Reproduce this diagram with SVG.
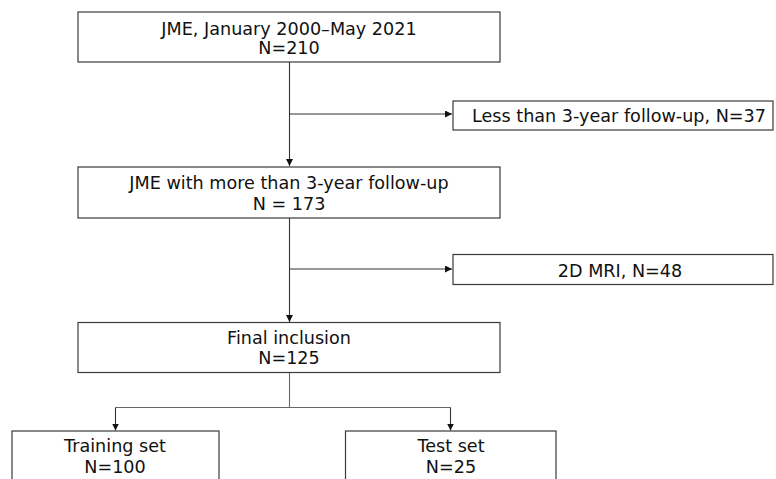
<svg xmlns="http://www.w3.org/2000/svg" width="776" height="479" viewBox="0 0 776 479">
<style>
.box{fill:#fff;stroke:#3a3a3a;stroke-width:1.2}
.t{font-family:"DejaVu Sans",Verdana,sans-serif;font-size:17.6px;fill:#111;text-anchor:middle}
.ln{fill:none;stroke:#333;stroke-width:1.1}
.ln2{fill:none;stroke:#666;stroke-width:1.1}
</style>
<defs>
<marker id="ah" viewBox="0 0 10 10" refX="10" refY="5" markerWidth="7" markerHeight="7" markerUnits="userSpaceOnUse" orient="auto">
<path d="M0,0 L10,5 L0,10 z" fill="#111"/>
</marker>
</defs>
<rect width="776" height="479" fill="#fff"/>
<g id="connectors">
<path class="ln" d="M289.5,62 V166" marker-end="url(#ah)"/>
<path class="ln" d="M289.5,114 H452" marker-end="url(#ah)"/>
<path class="ln" d="M289.5,218 V322" marker-end="url(#ah)"/>
<path class="ln" d="M289.5,269 H452" marker-end="url(#ah)"/>
<path class="ln2" d="M289.5,373 V407.5"/>
<path class="ln2" d="M115.5,407.5 H450.5"/>
<path class="ln" d="M115.5,407.5 V430.5" marker-end="url(#ah)"/>
<path class="ln" d="M450.5,407.5 V430.5" marker-end="url(#ah)"/>
</g>
<g id="n1">
<rect class="box" x="78" y="12" width="422" height="50"/>
<text class="t" x="289" y="35">JME, January 2000–May 2021</text>
<text class="t" x="289" y="54">N=210</text>
</g>
<g id="n2">
<rect class="box" x="453" y="101" width="320" height="29"/>
<text class="t" x="619" y="122">Less than 3-year follow-up, N=37</text>
</g>
<g id="n3">
<rect class="box" x="78" y="167" width="422" height="51"/>
<text class="t" x="289" y="189">JME with more than 3-year follow-up</text>
<text class="t" x="289" y="210">N = 173</text>
</g>
<g id="n4">
<rect class="box" x="453" y="254.5" width="320" height="30"/>
<text class="t" x="620" y="277">2D MRI, N=48</text>
</g>
<g id="n5">
<rect class="box" x="78" y="322.5" width="422" height="50"/>
<text class="t" x="289" y="344">Final inclusion</text>
<text class="t" x="289" y="364">N=125</text>
</g>
<g id="n6">
<rect class="box" x="12" y="431" width="207" height="60"/>
<text class="t" x="115" y="452">Training set</text>
<text class="t" x="115" y="473">N=100</text>
</g>
<g id="n7">
<rect class="box" x="345.5" y="431" width="210.5" height="60"/>
<text class="t" x="451" y="452">Test set</text>
<text class="t" x="451" y="473">N=25</text>
</g>
</svg>
